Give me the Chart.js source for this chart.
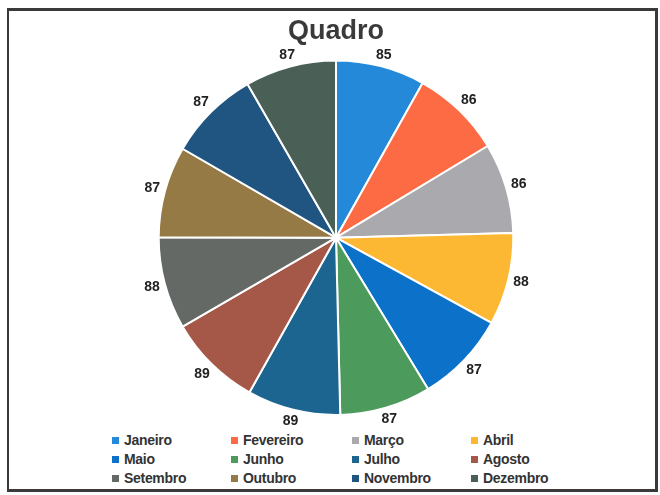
<!DOCTYPE html>
<html>
<head>
<meta charset="utf-8">
<script src="https://cdn.jsdelivr.net/npm/chart.js@4/dist/chart.umd.min.js"></script>
<style>
  body { margin: 0; background: #fff; width: 660px; height: 495px; overflow: hidden; position: relative; font-family: "Liberation Sans", Arial, sans-serif; }
  #frame { position: absolute; left: 7px; top: 8px; width: 646px; height: 478px; border: 3px solid #3a3a3a; border-left-width: 2px; }
  #chart { position: absolute; left: 0; top: 0; }
  #legend { position: absolute; left: 112px; top: 431px; display: grid; grid-template-columns: 119px 121px 119px 110px; row-gap: 1px; }
  .item { display: flex; align-items: center; font-weight: bold; font-size: 14px; color: #333; height: 18px; letter-spacing: -0.3px; }
  .box { width: 7px; height: 7px; margin-right: 5px; }
</style>
</head>
<body>
<div id="frame"></div>
<canvas id="chart" width="660" height="430"></canvas>
<div id="legend"></div>
<script>
const months = ['Janeiro', 'Fevereiro', 'Março', 'Abril', 'Maio', 'Junho',
    'Julho', 'Agosto', 'Setembro', 'Outubro', 'Novembro', 'Dezembro'];
const scores = [85, 86, 86, 88, 87, 87, 89, 89, 88, 87, 87, 87];
const sliceColors = ['#2389d8', '#fd6b45', '#a9a9ae', '#fdb833', '#0c72c9', '#4c9a5c',
    '#1d6591', '#a65848', '#646966', '#957a45', '#1f5580', '#4a5f55'];

// value labels just outside each slice
const outsideLabels = {
    id: 'outsideLabels',
    afterDatasetsDraw(chart) {
        const ctx = chart.ctx;
        const meta = chart.getDatasetMeta(0);
        ctx.save();
        ctx.font = 'bold 14px "Liberation Sans", Arial, sans-serif';
        ctx.fillStyle = '#222';
        ctx.textAlign = 'center';
        ctx.textBaseline = 'middle';
        meta.data.forEach((arc, i) => {
            const p = arc.getProps(['x', 'y', 'startAngle', 'endAngle', 'outerRadius'], true);
            const mid = (p.startAngle + p.endAngle) / 2;
            const text = String(scores[i]);
            const w = ctx.measureText(text).width;
            const d = p.outerRadius + 4 + (w / 2) * Math.abs(Math.cos(mid)) + 6 * Math.abs(Math.sin(mid));
            ctx.fillText(text, p.x + d * Math.cos(mid), p.y + d * Math.sin(mid));
        });
        ctx.restore();
    }
};

const ctx = document.getElementById('chart').getContext('2d');
const quadroChart = new Chart(ctx, {
    type: 'pie',
    data: {
        labels: months,
        datasets: [{
            data: scores,
            backgroundColor: sliceColors,
            borderColor: '#ffffff',
            borderWidth: 2
        }]
    },
    options: {
        responsive: false,
        animation: false,
        layout: { padding: { left: 12, bottom: 14 } },
        plugins: {
            legend: { display: false },
            tooltip: { enabled: false },
            title: {
                display: true,
                text: 'Quadro',
                color: '#3a3a3a',
                font: { family: '"Liberation Sans", Arial, sans-serif', size: 27, weight: 'bold' },
                padding: { top: 15, bottom: 12 }
            }
        }
    },
    plugins: [outsideLabels]
});

// legend in four columns like the original
const legend = document.getElementById('legend');
months.forEach((m, i) => {
    const div = document.createElement('div');
    div.className = 'item';
    div.innerHTML = `<span class="box" style="background:${sliceColors[i]}"></span>${m}`;
    legend.appendChild(div);
});
</script>
</body>
</html>
